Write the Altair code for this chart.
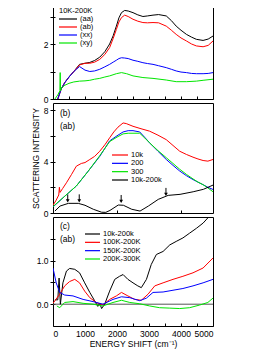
import altair as alt
import pandas as pd

FONT = "Liberation Sans"

# ---------------- panel (a) ----------------
a_labels = ["(aa)", "(ab)", "(xx)", "(xy)"]
a_colors = ["#000000", "#ff0000", "#0000ff", "#00e600"]
a_x = [150, 250, 370, 500, 650, 830, 1000, 1150, 1300, 1460, 1620, 1770, 1880, 1980, 2060, 2140, 2240,
       2350, 2500, 2650, 2810, 2950, 3125, 3300, 3540, 3700, 3850, 4000, 4170, 4330, 4480, 4690, 4850, 5000]
a_aa = [0, 0.35, 0.6, 0.8, 1.0, 1.26, 1.3, 1.33, 1.4, 1.52, 1.72, 2.0, 2.3, 2.65, 2.95, 3.14, 3.22,
        3.2, 3.14, 3.06, 3.0, 3.02, 3.05, 3.07, 3.02, 2.85, 2.65, 2.5, 2.35, 2.25, 2.17, 2.13, 2.18, 2.29]
a_ab = [0, 0.35, 0.6, 0.8, 1.0, 1.24, 1.3, 1.3, 1.34, 1.44, 1.62, 1.87, 2.2, 2.53, 2.8, 2.96, 3.05,
        3.0, 2.9, 2.83, 2.78, 2.77, 2.78, 2.77, 2.65, 2.5, 2.35, 2.22, 2.11, 2.0, 1.93, 1.9, 1.95, 2.11]
a_xx = [0, 0.35, 0.6, 0.8, 1.0, 1.18, 1.05, 1.0, 1.02, 1.08, 1.17, 1.26, 1.34, 1.41, 1.47, 1.5, 1.49,
        1.47, 1.41, 1.37, 1.32, 1.29, 1.26, 1.21, 1.14, 1.08, 1.02, 0.98, 0.96, 0.93, 0.92, 0.92, 0.93, 0.96]
a_xy_x = [60, 150, 215, 225, 235, 260, 370, 500, 650, 830, 1000, 1150, 1300, 1460, 1620, 1770, 1980,
          2140, 2300, 2500, 2810, 3125, 3540, 3850, 4170, 4480, 4690, 5000]
a_xy = [0, 0.15, 0.3, 0.96, 0.3, 0.4, 0.5, 0.57, 0.62, 0.65, 0.66, 0.68, 0.72, 0.75, 0.8, 0.84, 0.92,
        0.96, 0.92, 0.84, 0.78, 0.75, 0.69, 0.63, 0.63, 0.65, 0.68, 0.72]
a_legend_title = "10K-200K"
a_tags = ["(a)"]

# ---------------- panel (b) ----------------
b_labels = ["10k", "200", "300", "10k-200k"]
b_texts = ["\u00a0\u00a010k", "200", "300", "10k-200k"]
b_colors = ["#ff0000", "#0000ff", "#00e600", "#000000"]
b_red_x = [0, 100, 180, 200, 220, 300, 420, 580, 730, 885, 1000, 1150, 1300, 1460, 1620, 1770, 1900,
           2030, 2190, 2290, 2500, 2750, 3020, 3280, 3540, 3750, 3960, 4170, 4375, 4530, 4690, 4840, 5000]
b_10k = [0.6, 1.0, 1.4, 2.0, 1.6, 1.9, 2.35, 3.0, 3.64, 3.85, 3.92, 4.16, 4.4, 4.8, 5.3, 5.84, 6.3,
         6.67, 7.0, 6.95, 6.74, 6.55, 6.36, 6.05, 5.7, 5.25, 4.8, 4.55, 4.34, 4.2, 4.08, 4.03, 4.16]
b_bg_x = [0, 365, 730, 1100, 1460, 1770, 2000, 2190, 2350, 2500, 2710, 2860, 3020, 3280, 3540, 3750,
          3960, 4170, 4375, 4530, 4690, 4840, 5000]
b_200 = [0.47, 1.3, 2.1, 3.25, 4.4, 5.6, 6.0, 6.3, 6.4, 6.4, 6.3, 5.9, 5.45, 4.8, 4.16, 3.7,
         3.26, 2.9, 2.6, 2.4, 2.2, 2.0, 1.83]
b_300 = [0.5, 1.3, 2.1, 3.25, 4.45, 5.55, 5.9, 6.15, 6.2, 6.2, 6.2, 5.85, 5.45, 4.85, 4.3, 3.85,
         3.4, 3.0, 2.65, 2.4, 2.2, 1.95, 1.65]
b_diff_x = [60, 220, 480, 790, 1000, 1260, 1520, 1650, 1780, 2040, 2200, 2460, 2720, 2980, 3290, 3600,
            3970, 4380, 4700, 5000]
b_diff = [0.15, 0.54, 0.75, 0.75, 0.6, 0.29, 0.06, 0.05, 0.2, 0.62, 0.6, 0.29, 0.15, 0.54, 1.06, 1.37,
          1.45, 1.65, 1.84, 2.17]
arrow_x = [460, 820, 2130, 3530]
arrow_top = [1.45, 1.45, 1.4, 1.95]
arrow_tip = [0.95, 0.95, 0.9, 1.45]
b_tags = ["(b)", "(ab)"]

# ---------------- panel (c) ----------------
c_labels = ["10k-200k", "100K-200K", "150K-200K", "200K-300K"]
c_colors = ["#000000", "#ff0000", "#0000ff", "#00e600"]
c_k_x = [60, 150, 190, 230, 310, 420, 520, 680, 830, 990, 1150, 1300, 1400, 1460, 1520, 1615, 1770,
         1930, 2080, 2190, 2340, 2500, 2650, 2760, 2920, 3070, 3230, 3440, 3650, 3850, 4060, 4270,
         4480, 4690, 4840, 5000]
c_k = [0.1, 0.1, 0.6, 0.0, 0.49, 0.76, 0.82, 0.8, 0.72, 0.49, 0.27, 0.08, -0.05, 0.02, -0.1, 0.0, 0.3,
       0.57, 0.64, 0.68, 0.57, 0.49, 0.42, 0.38, 0.57, 0.91, 1.14, 1.21, 1.36, 1.44, 1.52, 1.63,
       1.74, 1.86, 1.98, 2.15]
c_r_x = [0, 210, 365, 520, 680, 830, 990, 1150, 1350, 1560, 1770, 1980, 2140, 2340, 2550, 2760, 2970,
         3180, 3440, 3750, 4060, 4375, 4690, 5000]
c_r = [0.02, 0.23, 0.42, 0.52, 0.57, 0.49, 0.3, 0.15, 0.04, -0.02, 0.11, 0.19, 0.27, 0.19, 0.11, 0.09,
       0.23, 0.42, 0.49, 0.57, 0.64, 0.72, 0.83, 1.06]
c_b_x = [0, 100, 210, 365, 625, 940, 1250, 1560, 1875, 2140, 2400, 2710, 2920, 3125, 3440, 3750, 4060,
         4375, 4690, 5000]
c_b = [0.83, 0.49, 0.27, 0.21, 0.19, 0.11, 0.06, 0.0, 0.11, 0.17, 0.15, 0.08, 0.14, 0.27, 0.28, 0.32,
       0.36, 0.42, 0.49, 0.57]
c_g_x = [120, 210, 365, 625, 940, 1250, 1560, 1875, 2140, 2400, 2710, 3020, 3330, 3650, 3960, 4270,
         4580, 4840, 5000]
c_g = [-0.04, -0.08, 0.04, 0.06, 0.02, 0.0, -0.04, 0.04, 0.09, 0.04, 0.01, -0.04, -0.08, -0.09, -0.1,
       -0.08, -0.02, 0.04, 0.14]
c_zero = [0]
c_tags = ["(c)", "(ab)"]

x_tick_values = list(range(0, 5001, 500))
XTITLE = "ENERGY SHIFT (cm\u207b\u00b9)"
YTITLE = "SCATTERING INTENSITY"


def lines_df(labels, xs_list, ys_list):
    frames = []
    for lab, xs, ys in zip(labels, xs_list, ys_list):
        frames.append(pd.DataFrame({"s": lab, "x": xs, "y": ys, "o": list(range(len(xs)))}))
    return pd.concat(frames, ignore_index=True)


XS = alt.Scale(domain=[0, 5000], nice=False, zero=False)


def x_axis(show_labels, title=None):
    kw = dict(values=x_tick_values, labels=show_labels, format="d",
              labelExpr="datum.value % 1000 == 0 ? datum.label : ''",
              tickSize=3, offset=-3, domain=False, grid=False, labelPadding=3,
              title=title)
    if title:
        kw["titlePadding"] = 2
    return alt.Axis(**kw)


def text_layer(txt, x, y, size=8.5):
    return alt.Chart(pd.DataFrame({"t": [txt]})).mark_text(
        align="left", baseline="middle", font=FONT, fontSize=size, color="black"
    ).encode(x=alt.value(x), y=alt.value(y), text="t:N")


def make_panel(df, labels, texts, colors, ydom, height, yvals, yshow, show_xlabels,
               leg, tags, extras=(), xtitle=None, ytitle=None):
    ys = alt.Scale(domain=ydom, nice=False, zero=False)
    cs = alt.Scale(domain=labels, range=colors)
    ykw = dict(values=yvals, labelExpr=f"indexof({yshow}, datum.value) >= 0 ? datum.label : ''",
               tickSize=5, offset=-2, domain=False, grid=False, labelPadding=2, title=ytitle)
    if ytitle:
        ykw["titlePadding"] = 3
    lines = alt.Chart(df).mark_line(strokeWidth=1, clip=True).encode(
        x=alt.X("x:Q", scale=XS, axis=x_axis(show_xlabels, xtitle)),
        y=alt.Y("y:Q", scale=ys, axis=alt.Axis(**ykw)),
        color=alt.Color("s:N", scale=cs, legend=None),
        order="o:Q",
    )
    lx0, lx1, ly0, ly1 = leg
    ldf = pd.DataFrame({"s": labels, "t": texts})
    ly = alt.Y("s:N", scale=alt.Scale(type="point", domain=labels, range=[ly0, ly1], padding=0), axis=None)
    lrule = alt.Chart(ldf).mark_rule(strokeWidth=1.2).encode(
        x=alt.value(lx0), x2=alt.value(lx1), y=ly, color=alt.Color("s:N", scale=cs, legend=None))
    ltext = alt.Chart(ldf).mark_text(align="left", baseline="middle", font=FONT, fontSize=7.5,
                                     color="black").encode(x=alt.value(lx1 + 3), y=ly, text="t:N")
    layers = [e(ys) for e in extras] + [lines, lrule, ltext] + tags
    return alt.layer(*layers).resolve_scale(y="independent").properties(width=160, height=height)


# panel a
df_a = lines_df(a_labels, [a_x, a_x, a_x, a_xy_x], [a_aa, a_ab, a_xx, a_xy])
pa = make_panel(df_a, a_labels, a_labels, a_colors, [0, 4], 110, [0, 1, 2, 3, 4], [0, 2], False,
                (6, 24, 30, 54),
                [text_layer(a_tags[0], 6, 11), text_layer(a_legend_title, 6, 22, 7.5)])

# panel b
df_b = lines_df(b_labels, [b_red_x, b_bg_x, b_bg_x, b_diff_x], [b_10k, b_200, b_300, b_diff])
arr_df = pd.DataFrame({"x": arrow_x, "top": arrow_top, "tip": arrow_tip})


def arrow_rules(ys):
    return alt.Chart(arr_df).mark_rule(color="black", strokeWidth=1).encode(
        x=alt.X("x:Q", scale=XS), y=alt.Y("top:Q", scale=ys, axis=None), y2="tip:Q")


def arrow_heads(ys):
    return alt.Chart(arr_df).mark_point(shape="triangle-down", filled=True, size=14, color="black",
                                        opacity=1).encode(
        x=alt.X("x:Q", scale=XS), y=alt.Y("tip:Q", scale=ys, axis=None))


pb = make_panel(df_b, b_labels, b_texts, b_colors, [0, 8.55], 110, [0, 2, 4, 6, 8], [0, 4, 8], False,
                (59, 75, 52, 77),
                [text_layer(b_tags[0], 7, 10), text_layer(b_tags[1], 7, 23)],
                extras=(arrow_rules, arrow_heads), ytitle=YTITLE)

# panel c
df_c = lines_df(c_labels, [c_k_x, c_r_x, c_b_x, c_g_x], [c_k, c_r, c_b, c_g])


def zero_line(ys):
    return alt.Chart(pd.DataFrame({"y": c_zero})).mark_rule(color="#555555", strokeWidth=1).encode(
        y=alt.Y("y:Q", scale=ys, axis=None))


pc = make_panel(df_c, c_labels, c_labels, c_colors, [-0.5, 2], 109, [0, 0.5, 1, 1.5], [0, 1], True,
                (32, 47, 17, 42),
                [text_layer(c_tags[0], 7, 9), text_layer(c_tags[1], 7, 22)],
                extras=(zero_line,), xtitle=XTITLE)

chart = alt.vconcat(pa, pb, pc, spacing=4, bounds="flush").resolve_scale(
    color="independent"
).configure_view(
    stroke="black", strokeWidth=1
).configure_axis(
    labelFont=FONT, titleFont=FONT, labelColor="black", tickColor="black", titleColor="black",
    titleFontWeight="normal", labelFontSize=8.5, titleFontSize=8.5
).properties(
    padding={"left": 22, "top": -20, "right": 5, "bottom": 5}
)

chart.save("out.html", embed_options={"renderer": "svg", "actions": False})
